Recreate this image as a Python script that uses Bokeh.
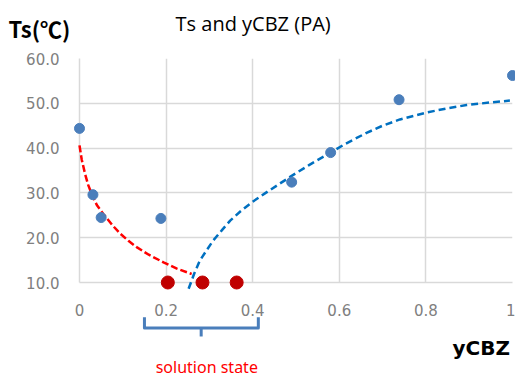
from bokeh.plotting import figure
from bokeh.models import Range1d, FixedTicker
from bokeh.core.properties import value
from bokeh.embed import file_html
from bokeh.resources import INLINE

# measured data (blue)
meas_x = [0.0, 0.031, 0.05, 0.188, 0.49, 0.58, 0.738, 1.0]
meas_y = [44.4, 29.6, 24.5, 24.3, 32.4, 39.0, 50.8, 56.2]
# solution-state points (red)
sol_x = [0.204, 0.284, 0.363]
sol_y = [10.0, 10.0, 10.0]
# trend curves
red_x = [0.0, 0.005, 0.0127, 0.02, 0.028, 0.04, 0.055, 0.075, 0.094, 0.113, 0.132, 0.16, 0.194, 0.225, 0.259]
red_y = [40.6, 37.5, 34.3, 31.8, 29.8, 27.3, 25.3, 22.9, 20.9, 19.3, 17.9, 16.2, 14.5, 13.1, 11.9]
blue_x = [0.252, 0.265, 0.278, 0.295, 0.309, 0.33, 0.348, 0.372, 0.398, 0.43, 0.463, 0.49, 0.53,
          0.58, 0.613, 0.663, 0.70, 0.74, 0.80, 0.85, 0.894, 0.95, 0.994]
blue_y = [8.6, 12.0, 14.9, 17.4, 19.4, 21.8, 23.8, 25.9, 27.9, 30.0, 32.1, 33.8, 36.2,
          39.0, 40.9, 43.4, 45.0, 46.4, 47.9, 48.9, 49.6, 50.2, 50.6]
x_ticks = [0, 0.2, 0.4, 0.6, 0.8, 1]
x_tick_labels = ["0", "0.2", "0.4", "0.6", "0.8", "1"]
y_ticks = [10, 20, 30, 40, 50, 60]
y_tick_labels = ["10.0", "20.0", "30.0", "40.0", "50.0", "60.0"]
# bracket under the x axis (solution state range)
br_left, br_right, br_mid = 0.15, 0.413, 0.281
br_top, br_bot, br_tip = 2.25, -0.16, -2.05

p = figure(width=515, height=377, frame_width=433, frame_height=224,
           x_range=Range1d(0, 1), y_range=Range1d(10, 60),
           output_backend="svg", toolbar_location=None,
           min_border_left=79, min_border_right=3, min_border_top=58, min_border_bottom=95)
p.outline_line_color = None
p.background_fill_color = "white"
p.border_fill_color = "white"

for ax, ticks, labels in ((p.xaxis[0], x_ticks, x_tick_labels), (p.yaxis[0], y_ticks, y_tick_labels)):
    ax.ticker = FixedTicker(ticks=ticks)
    ax.major_label_overrides = {t: l for t, l in zip(ticks, labels)}
    ax.major_tick_line_color = None
    ax.minor_tick_line_color = None
    ax.axis_line_color = "#d9d9d9"
    ax.axis_line_width = 1.5
    ax.major_label_text_color = "#808080"
    ax.major_label_text_font = "DejaVu Sans"
    ax.major_label_text_font_size = "15px"
p.yaxis[0].major_label_standoff = 14
p.xaxis[0].major_label_standoff = 15

p.grid.grid_line_color = "#d9d9d9"
p.grid.grid_line_width = 1.5
p.xgrid.ticker = FixedTicker(ticks=x_ticks)
p.ygrid.ticker = FixedTicker(ticks=y_ticks)

rs = []
rs.append(p.line(red_x, red_y, line_color="#ff0000", line_width=2.5, line_dash="7 3"))
rs.append(p.line(blue_x, blue_y, line_color="#0070c0", line_width=2.5, line_dash="7 4"))
rs.append(p.scatter(meas_x, meas_y, size=10, fill_color="#4a7ebb", line_color="#4a7ebb"))
rs.append(p.scatter(sol_x, sol_y, size=13, fill_color="#c00000", line_color="#c00000"))
rs.append(p.line([br_left, br_left, br_right, br_right], [br_top, br_bot, br_bot, br_top],
                 line_color="#4a7ebb", line_width=3, line_join="round"))
rs.append(p.line([br_mid, br_mid], [br_bot, br_tip], line_color="#4a7ebb", line_width=3))

rs.append(p.text(x=[0.401], y=[67.8], text=["Ts and yCBZ (PA)"], text_align="center",
                 text_baseline="alphabetic", text_font=value("Open Sans"), text_font_size="20px",
                 text_color="#000000"))
rs.append(p.text(x=[-0.164], y=[66.8], text=["Ts(℃)"], text_align="left",
                 text_baseline="alphabetic", text_font=value("Noto Sans CJK JP"), text_font_size="22px",
                 text_font_style="bold", text_color="#000000"))
rs.append(p.text(x=[0.994], y=[-4.6], text=["yCBZ"], text_align="right",
                 text_baseline="alphabetic", text_font=value("DejaVu Sans"), text_font_size="20px",
                 text_font_style="bold", text_color="#000000"))
rs.append(p.text(x=[0.294], y=[-8.8], text=["solution state"], text_align="center",
                 text_baseline="alphabetic", text_font=value("Noto Sans"), text_font_size="16px",
                 text_color="#ff0000"))
for r in rs:
    r.level = "overlay"

open("out.html", "w").write(file_html(p, INLINE))
